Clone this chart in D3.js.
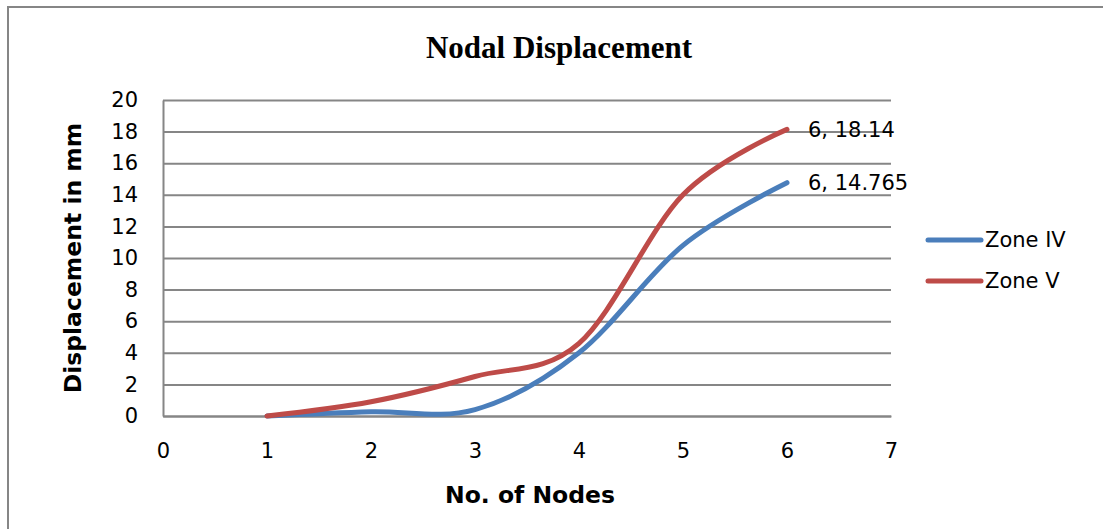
<!DOCTYPE html>
<html>
<head>
<meta charset="utf-8">
<script src="https://cdn.jsdelivr.net/npm/d3@7"></script>
<style>
  body { margin: 0; background: #ffffff; }
</style>
</head>
<body>
<div id="chart"></div>
<script>
let nodes = [1, 2, 3, 4, 5, 6];
let zone_iv = [0, 0.27, 0.4, 4.0, 10.8, 14.765];
let zone_v = [0, 0.9, 2.5, 4.6, 14.0, 18.14];
let series_names = ["Zone IV", "Zone V"];
let series_colors = ["#4a7ebb", "#be4b48"];
let x_ticks = [0, 1, 2, 3, 4, 5, 6, 7];
let y_ticks = [0, 2, 4, 6, 8, 10, 12, 14, 16, 18, 20];

let width = 1103;
let height = 529;

let plot_left = 163;
let plot_right = 891;
let plot_top = 100;
let plot_bottom = 416;

let label_font = "'DejaVu Sans', sans-serif";
let label_size = "21px";

let svg = d3.select("#chart")
            .append("svg")
              .attr("width", width)
              .attr("height", height)
              .attr("xmlns", "http://www.w3.org/2000/svg");

// outer chart border
svg.append("rect")
   .attr("x", 8)
   .attr("y", 7)
   .attr("width", width)
   .attr("height", height)
   .attr("fill", "white")
   .attr("stroke", "#868686")
   .attr("stroke-width", 2);

let x = d3.scaleLinear().domain([0, 7]).range([plot_left, plot_right]);
let y = d3.scaleLinear().domain([0, 20]).range([plot_bottom, plot_top]);

// gridlines
svg.append("g")
   .attr("transform", "translate(" + plot_left + ",0)")
   .call(d3.axisLeft(y).tickValues(y_ticks).tickSize(-(plot_right - plot_left)).tickFormat(""))
   .call(g => g.select(".domain").remove())
   .call(g => g.selectAll("line").attr("stroke", "#868686").attr("stroke-width", 2));

// y axis
let y_axis = svg.append("g")
   .attr("transform", "translate(" + plot_left + ",0)")
   .call(d3.axisLeft(y).tickValues(y_ticks).tickSize(0).tickPadding(25));
y_axis.select(".domain").attr("stroke", "#868686").attr("stroke-width", 2);
y_axis.selectAll("text")
   .attr("font-family", label_font)
   .attr("font-size", label_size)
   .attr("fill", "#000");

// x axis
let x_axis = svg.append("g")
   .attr("transform", "translate(0," + plot_bottom + ")")
   .call(d3.axisBottom(x).tickValues(x_ticks).tickFormat(d3.format("d")).tickSize(0).tickPadding(27));
x_axis.select(".domain").attr("stroke", "#868686").attr("stroke-width", 2);
x_axis.selectAll("text")
   .attr("font-family", label_font)
   .attr("font-size", label_size)
   .attr("fill", "#000");

// lines
let line = d3.line()
             .x((d, i) => x(nodes[i]))
             .y(d => y(d))
             .curve(d3.curveCatmullRom.alpha(0));

[zone_iv, zone_v].forEach((vals, k) => {
  svg.append("path")
     .attr("d", line(vals))
     .attr("fill", "none")
     .attr("stroke", series_colors[k])
     .attr("stroke-width", 5)
     .attr("stroke-linecap", "round");
});

// data labels on last point
[zone_v, zone_iv].forEach(vals => {
  let n = nodes.length - 1;
  svg.append("text")
     .attr("x", x(nodes[n]) + 21)
     .attr("y", y(vals[n]))
     .attr("dy", "0.35em")
     .attr("font-family", label_font)
     .attr("font-size", label_size)
     .attr("fill", "#000")
     .text(nodes[n] + ", " + vals[n]);
});

// title
svg.append("text")
   .attr("x", 559)
   .attr("y", 58)
   .attr("text-anchor", "middle")
   .attr("font-family", "'Liberation Serif', 'Times New Roman', serif")
   .attr("font-weight", "bold")
   .attr("font-size", "31px")
   .text("Nodal Displacement");

// axis titles
svg.append("text")
   .attr("x", 530)
   .attr("y", 503)
   .attr("text-anchor", "middle")
   .attr("font-family", label_font)
   .attr("font-weight", "bold")
   .attr("font-size", "23.5px")
   .text("No. of Nodes");

svg.append("text")
   .attr("transform", "translate(81,258) rotate(-90)")
   .attr("text-anchor", "middle")
   .attr("font-family", label_font)
   .attr("font-weight", "bold")
   .attr("font-size", "23.5px")
   .text("Displacement in mm");

// legend
let legend = svg.append("g");
series_names.forEach((name, k) => {
  let ly = 240 + k * 41;
  legend.append("line")
        .attr("x1", 928).attr("x2", 981)
        .attr("y1", ly).attr("y2", ly)
        .attr("stroke", series_colors[k])
        .attr("stroke-width", 5)
        .attr("stroke-linecap", "round");
  legend.append("text")
        .attr("x", 985)
        .attr("y", ly)
        .attr("dy", "0.35em")
        .attr("font-family", label_font)
        .attr("font-size", label_size)
        .text(name);
});
</script>
</body>
</html>
